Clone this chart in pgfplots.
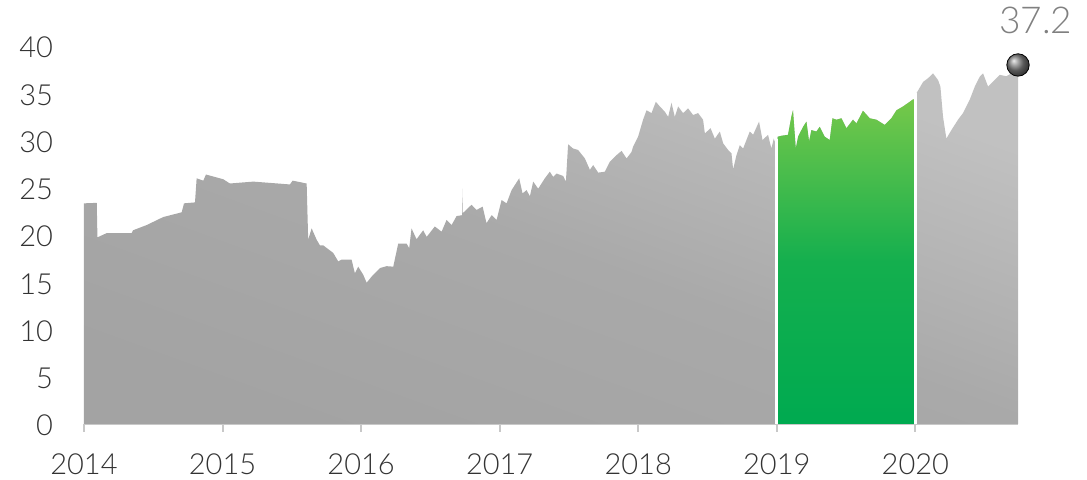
\documentclass[border=0pt]{standalone}
\usepackage{pgfplots}
\pgfplotsset{compat=1.18}
\usepackage{fontspec}
\setmainfont{Lato Light}
\definecolor{grayTop}{RGB}{193,193,193}
\definecolor{grayMid}{RGB}{169,169,169}
\definecolor{grayBot}{RGB}{163,163,163}
\definecolor{greenTop}{RGB}{118,200,74}
\definecolor{greenMid}{RGB}{20,175,78}
\definecolor{greenBot}{RGB}{0,170,80}
\definecolor{axisgray}{RGB}{200,200,200}
\pgfplotstableread{
x y
2014.000 23.35
2014.092 23.40
2014.097 19.75
2014.164 20.20
2014.344 20.20
2014.354 20.50
2014.452 21.05
2014.572 21.90
2014.705 22.40
2014.722 23.35
2014.801 23.45
2014.813 26.00
2014.861 25.75
2014.880 26.40
2015.005 25.90
2015.053 25.45
2015.222 25.65
2015.486 25.35
2015.506 25.75
2015.607 25.45
2015.618 19.50
2015.643 20.70
2015.679 19.50
2015.703 18.90
2015.727 18.90
2015.799 18.10
2015.835 17.20
2015.859 17.40
2015.931 17.40
2015.955 15.95
2015.979 16.65
2016.015 15.80
2016.040 14.95
2016.076 15.60
2016.136 16.50
2016.184 16.70
2016.232 16.65
2016.268 19.10
2016.328 19.10
2016.347 18.60
2016.364 20.70
2016.400 19.55
2016.448 20.50
2016.473 19.80
2016.532 20.90
2016.581 20.35
2016.617 21.60
2016.653 21.05
2016.689 22.00
2016.729 22.10
2016.731 24.90
2016.733 22.30
2016.797 23.20
2016.833 22.65
2016.877 23.00
2016.905 21.25
2016.942 22.10
2016.978 21.60
2017.014 23.70
2017.050 23.35
2017.086 24.75
2017.141 26.00
2017.165 24.40
2017.194 24.75
2017.218 24.10
2017.242 25.65
2017.278 24.90
2017.326 26.00
2017.362 26.70
2017.386 26.15
2017.411 26.50
2017.458 26.25
2017.478 25.65
2017.494 29.60
2017.530 29.15
2017.566 29.00
2017.615 28.10
2017.651 26.90
2017.675 27.40
2017.711 26.60
2017.759 26.70
2017.795 27.75
2017.843 28.45
2017.880 28.90
2017.916 28.10
2017.952 28.80
2017.963 29.35
2017.999 30.40
2018.035 32.20
2018.060 33.20
2018.096 32.90
2018.127 34.10
2018.156 33.60
2018.192 33.05
2018.216 32.50
2018.240 34.00
2018.264 32.50
2018.288 33.60
2018.324 32.90
2018.360 33.40
2018.396 32.70
2018.432 32.90
2018.468 32.20
2018.481 30.75
2018.522 31.30
2018.553 30.20
2018.589 30.95
2018.613 29.70
2018.649 29.00
2018.673 28.65
2018.685 26.95
2018.709 28.45
2018.733 29.50
2018.757 29.15
2018.805 30.95
2018.829 30.60
2018.872 32.00
2018.897 30.05
2018.937 30.60
2018.961 29.15
2018.978 30.20
2018.990 29.70
2019.000 29.00
2019.007 30.40
2019.034 30.50
2019.081 30.60
2019.105 32.50
2019.117 33.20
2019.137 29.15
2019.154 30.40
2019.190 31.45
2019.214 32.00
2019.233 29.90
2019.250 31.10
2019.286 30.95
2019.310 31.45
2019.346 30.40
2019.382 30.05
2019.402 32.35
2019.430 32.20
2019.467 32.35
2019.503 31.30
2019.550 32.20
2019.575 31.80
2019.622 33.15
2019.671 32.35
2019.719 32.20
2019.779 31.65
2019.827 32.35
2019.864 33.20
2019.911 33.60
2019.960 34.10
2019.983 34.35
2019.993 34.35
2020.000 34.35
2020.008 35.00
2020.056 36.20
2020.092 36.60
2020.128 37.10
2020.164 36.40
2020.181 35.70
2020.200 32.50
2020.224 30.20
2020.260 31.10
2020.308 32.20
2020.344 32.90
2020.392 34.30
2020.429 35.70
2020.465 36.75
2020.489 37.10
2020.525 35.70
2020.549 36.05
2020.585 36.60
2020.609 36.95
2020.657 36.80
2020.693 37.10
2020.741 37.20
}\grayseries
\pgfplotstableread{
x y
2019.000 29.00
2019.007 30.40
2019.034 30.50
2019.081 30.60
2019.105 32.50
2019.117 33.20
2019.137 29.15
2019.154 30.40
2019.190 31.45
2019.214 32.00
2019.233 29.90
2019.250 31.10
2019.286 30.95
2019.310 31.45
2019.346 30.40
2019.382 30.05
2019.402 32.35
2019.430 32.20
2019.467 32.35
2019.503 31.30
2019.550 32.20
2019.575 31.80
2019.622 33.15
2019.671 32.35
2019.719 32.20
2019.779 31.65
2019.827 32.35
2019.864 33.20
2019.911 33.60
2019.960 34.10
2019.983 34.35
2019.993 34.35
}\greenseries
\begin{document}
\begin{tikzpicture}
\begin{axis}[
  name=ax,
  scale only axis,
  width=467pt, height=189pt,
  xmin=2014, xmax=2020.741,
  ymin=0, ymax=40,
  clip=false,
  axis lines=left,
  y axis line style={draw=none},
  x axis line style={-, draw=axisgray, line width=1.2pt},
  xtick={2014,2015,2016,2017,2018,2019,2020},
  xticklabels={2014,2015,2016,2017,2018,2019,2020},
  ytick={0,5,10,15,20,25,30,35,40},
  tick align=outside,
  major tick length=4pt,
  xtick style={draw=axisgray, line width=1pt},
  ytick style={draw=none},
  /pgf/number format/assume math mode=true,
  tick label style={font=\fontsize{14.5}{16}\selectfont, text=black!80},
  y tick label style={anchor=east, xshift=-8pt, yshift=-0.8pt},
  x tick label style={anchor=north, yshift=-7.5pt},
]
\addplot[draw=none, bottom color=grayBot, top color=grayTop, middle color=grayMid, shading angle=-20] table[x=x,y=y] {\grayseries} \closedcycle;
\addplot[draw=none, bottom color=greenBot, top color=greenTop, middle color=greenMid] table[x=x,y=y] {\greenseries} \closedcycle;
\addplot[white, line width=1.4pt] coordinates {(2019,0) (2019,30.2)};
\addplot[white, line width=1.4pt] coordinates {(2020,0) (2020,35.0)};
\addplot[mark=ball, mark size=5.6pt, mark options={draw=none, ball color=black!50, yshift=3.75pt},
  nodes near coords, point meta=explicit symbolic,
  every node near coord/.append style={anchor=base, xshift=8.8pt, yshift=15.5pt, text=black!50, font=\fontsize{18.5}{21}\selectfont}]
  coordinates {(2020.741,37.2) [37.2]};
\end{axis}
\pgfresetboundingbox
\path (ax.south west) ++(-42pt,-28pt) rectangle ++(543.5pt,240pt);
\end{tikzpicture}
\end{document}
